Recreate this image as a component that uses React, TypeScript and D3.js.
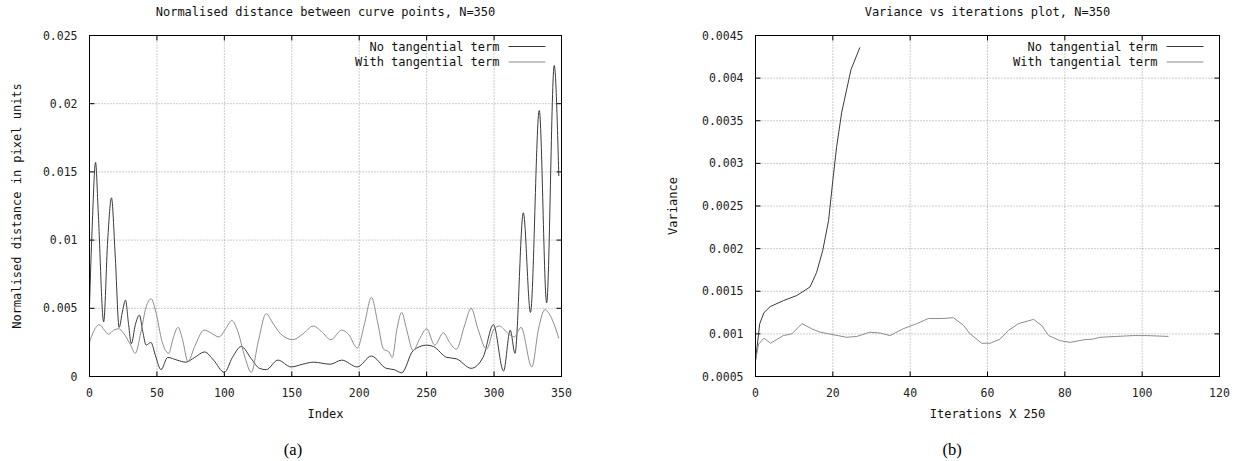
import React from "react";
import * as d3 from "d3";

// ---- Panel (a): Normalised distance between curve points ----
const aIndexNoTan = [0, 2, 4.5, 6.5, 10.5, 13.5, 16.3, 19, 22, 24.5, 26.7, 29, 31, 34, 37, 39.5, 42, 45.5, 49, 53, 58, 65, 71.5, 78, 85.4, 92, 100, 106, 112.5, 120, 126, 131, 139.7, 149.5, 158, 166, 178.5, 187, 198.6, 209, 220, 226, 231.5, 240, 250, 255, 265, 272, 283, 291.8, 299.5, 307, 312, 315.5, 321.7, 327, 333.5, 339, 344.6, 348];
const aValNoTan = [0.0052, 0.011, 0.0157, 0.012, 0.004, 0.0100, 0.0131, 0.009, 0.0036, 0.0048, 0.0056, 0.0038, 0.0024, 0.0038, 0.0045, 0.0033, 0.0023, 0.0025, 0.0015, 0.0005, 0.0014, 0.0012, 0.00105, 0.0014, 0.0018, 0.0012, 0.0003, 0.0014, 0.0022, 0.0013, 0.0006, 0.0005, 0.0012, 0.0007, 0.0009, 0.00105, 0.0009, 0.0012, 0.0007, 0.0015, 0.0006, 0.0005, 0.00027, 0.0019, 0.0023, 0.0022, 0.0014, 0.0013, 0.0006, 0.0014, 0.0038, 0.0004, 0.0034, 0.0017, 0.012, 0.0047, 0.0195, 0.0054, 0.0228, 0.0147];

const aIndexTan = [0, 3, 7.4, 11, 14, 18, 21.7, 25, 30, 34, 38, 42, 45.7, 49, 54, 58.7, 62, 65.7, 69, 73, 78, 85, 90, 96, 101, 105.5, 110, 115, 120, 125, 131, 136, 142, 150.8, 158, 166, 172, 179, 187, 192, 198.6, 204, 209, 214, 218, 222, 224.5, 228, 231.5, 235, 240, 245, 250, 256, 262.4, 267, 272, 278, 283, 288, 294.4, 300, 304, 310, 315, 320, 328, 333, 337.6, 343, 348];
const aValTan = [0.0025, 0.0033, 0.0038, 0.0034, 0.0031, 0.0034, 0.0035, 0.0032, 0.0024, 0.0017, 0.0032, 0.0051, 0.0057, 0.0048, 0.0025, 0.0017, 0.0028, 0.0036, 0.0027, 0.0011, 0.0022, 0.0034, 0.0032, 0.0029, 0.0035, 0.0041, 0.0033, 0.0015, 0.0003, 0.0025, 0.0046, 0.0039, 0.0031, 0.0027, 0.0031, 0.0037, 0.0033, 0.0027, 0.0034, 0.0031, 0.0021, 0.0039, 0.0058, 0.0038, 0.002, 0.0018, 0.0014, 0.0035, 0.0047, 0.0035, 0.0019, 0.0028, 0.0035, 0.0023, 0.0032, 0.0025, 0.002, 0.0037, 0.005, 0.0035, 0.002, 0.0035, 0.0037, 0.0032, 0.0029, 0.0036, 0.0007, 0.0035, 0.0049, 0.0042, 0.0028];

const aXTicks = [0, 50, 100, 150, 200, 250, 300, 350];
const aYTicks = [0, 0.005, 0.01, 0.015, 0.02, 0.025];
const aYTickLabels = ["0", "0.005", "0.01", "0.015", "0.02", "0.025"];

// ---- Panel (b): Variance vs iterations ----
const bIterNoTan = [0, 1.1, 2.2, 3.8, 7.2, 10.7, 14.1, 15.8, 17.4, 18.9, 20, 21, 22.3, 24.7, 27];
const bValNoTan = [0.00069, 0.00112, 0.00125, 0.00132, 0.00139, 0.00145, 0.00155, 0.00172, 0.00198, 0.00233, 0.0028, 0.0032, 0.0036, 0.0041, 0.00436];

const bIterTan = [0, 0.8, 2.2, 3.9, 7.2, 9.4, 12, 14.5, 16.7, 20.1, 23.6, 26.2, 29.6, 32.2, 34.8, 38.2, 41.7, 44.7, 48.2, 51.2, 53.8, 55.5, 58.5, 60.7, 63.3, 65.4, 68, 71.9, 74, 75.8, 78.8, 81.4, 84.8, 87.4, 89.1, 93.4, 97.7, 101.2, 106.8];
const bValTan = [0.00068, 0.00088, 0.00095, 0.00089, 0.00098, 0.001, 0.00112, 0.00106, 0.00102, 0.00099, 0.00096, 0.00097, 0.00102, 0.00101, 0.00098, 0.00106, 0.00112, 0.00118, 0.00118, 0.00119, 0.0011, 0.001, 0.00089, 0.00089, 0.00094, 0.00104, 0.00112, 0.00117, 0.0011, 0.00098, 0.00092, 0.0009, 0.00093, 0.00094, 0.00096, 0.00097, 0.00098, 0.00098, 0.00097];

const bXTicks = [0, 20, 40, 60, 80, 100, 120];
const bYTicks = [0.0005, 0.001, 0.0015, 0.002, 0.0025, 0.003, 0.0035, 0.004, 0.0045];
const bYTickLabels = ["0.0005", "0.001", "0.0015", "0.002", "0.0025", "0.003", "0.0035", "0.004", "0.0045"];

const legendLabels = ["No tangential term", "With tangential term"];

const DARK = "#3a3a3a";
const LIGHT = "#8c8c8c";
const MONO = "'DejaVu Sans Mono', monospace";

type Series = { xs: number[]; ys: number[]; color: string };

function Panel(props: {
  left: number; right: number; top: number; bottom: number;
  xDomain: [number, number]; yDomain: [number, number];
  xTicks: number[]; yTicks: number[]; yLabels: string[];
  title: string; xLabel: string; yLabel: string; yLabelX: number;
  series: Series[]; curve: d3.CurveFactory; caption: string; captionX: number;
}) {
  const { left, right, top, bottom } = props;
  const x = d3.scaleLinear().domain(props.xDomain).range([left, right]);
  const y = d3.scaleLinear().domain(props.yDomain).range([bottom, top]);
  const cx = (left + right) / 2;
  const cy = (top + bottom) / 2;
  const tl = 5;
  return (
    <g>
      <defs>
        <clipPath id={"clip" + props.caption}>
          <rect x={left} y={top} width={right - left} height={bottom - top} />
        </clipPath>
      </defs>
      {/* grid */}
      {props.xTicks.slice(1, -1).map((t) => (
        <line key={"gx" + t} x1={x(t)} x2={x(t)} y1={top} y2={bottom} stroke="#9a9a9a" strokeWidth={1} strokeDasharray="1,2" />
      ))}
      {props.yTicks.slice(1, -1).map((t) => (
        <line key={"gy" + t} x1={left} x2={right} y1={y(t)} y2={y(t)} stroke="#9a9a9a" strokeWidth={1} strokeDasharray="1,2" />
      ))}
      {/* ticks */}
      {props.xTicks.map((t) => (
        <g key={"tx" + t}>
          <line x1={x(t)} x2={x(t)} y1={bottom} y2={bottom - tl} stroke="#000" />
          <line x1={x(t)} x2={x(t)} y1={top} y2={top + tl} stroke="#000" />
          <text x={x(t)} y={bottom + 20} textAnchor="middle" fontFamily={MONO} fontSize={11.5} fill="#222">{t}</text>
        </g>
      ))}
      {props.yTicks.map((t, i) => (
        <g key={"ty" + t}>
          <line x1={left} x2={left + tl} y1={y(t)} y2={y(t)} stroke="#000" />
          <line x1={right} x2={right - tl} y1={y(t)} y2={y(t)} stroke="#000" />
          <text x={left - 12} y={y(t) + 4} textAnchor="end" fontFamily={MONO} fontSize={11.5} fill="#222">{props.yLabels[i]}</text>
        </g>
      ))}
      {/* series */}
      <g clipPath={`url(#clip${props.caption})`}>
        {props.series.map((s, i) => {
          const pts: [number, number][] = s.xs.map((v, j) => [x(v), y(s.ys[j])]);
          const path = d3.line().curve(props.curve)(pts) || "";
          return <path key={i} d={path} fill="none" stroke={s.color} strokeWidth={1} />;
        })}
      </g>
      {/* legend */}
      {legendLabels.map((lab, i) => {
        const ly = top + 11 + i * 15.5;
        return (
          <g key={lab}>
            <text x={right - 62} y={ly + 4} textAnchor="end" fontFamily={MONO} fontSize={12} fill="#111">{lab}</text>
            <line x1={right - 53} x2={right - 16} y1={ly} y2={ly} stroke={i === 0 ? DARK : LIGHT} strokeWidth={1} />
          </g>
        );
      })}
      {/* frame */}
      <rect x={left} y={top} width={right - left} height={bottom - top} fill="none" stroke="#000" strokeWidth={1} />
      {/* titles */}
      <text x={cx} y={16} textAnchor="middle" fontFamily={MONO} fontSize={12} fill="#111">{props.title}</text>
      <text x={cx} y={418} textAnchor="middle" fontFamily={MONO} fontSize={12} fill="#111">{props.xLabel}</text>
      <text transform={`translate(${props.yLabelX},${cy}) rotate(-90)`} textAnchor="middle" fontFamily={MONO} fontSize={12} fill="#111">{props.yLabel}</text>
      <text x={props.captionX} y={455} textAnchor="middle" fontFamily="'Liberation Serif', 'Times New Roman', serif" fontSize={16.5} fill="#000">({props.caption})</text>
    </g>
  );
}

export default function App() {
  return (
    <svg width={1246} height={461} style={{ position: "absolute", left: 0, top: 0, background: "#fff" }}>
      <rect width={1246} height={461} fill="#fff" />
      <Panel
        left={89.5} right={561.5} top={35.5} bottom={376.5}
        xDomain={[0, 350]} yDomain={[0, 0.025]}
        xTicks={aXTicks} yTicks={aYTicks} yLabels={aYTickLabels}
        title="Normalised distance between curve points, N=350"
        xLabel="Index" yLabel="Normalised distance in pixel units" yLabelX={21}
        series={[{ xs: aIndexNoTan, ys: aValNoTan, color: DARK }, { xs: aIndexTan, ys: aValTan, color: LIGHT }]}
        curve={d3.curveMonotoneX} caption="a" captionX={293}
      />
      <Panel
        left={755.5} right={1219.5} top={35.5} bottom={376.5}
        xDomain={[0, 120]} yDomain={[0.0005, 0.0045]}
        xTicks={bXTicks} yTicks={bYTicks} yLabels={bYTickLabels}
        title="Variance vs iterations plot, N=350"
        xLabel="Iterations X 250" yLabel="Variance" yLabelX={677}
        series={[{ xs: bIterNoTan, ys: bValNoTan, color: DARK }, { xs: bIterTan, ys: bValTan, color: LIGHT }]}
        curve={d3.curveLinear} caption="b" captionX={952}
      />
    </svg>
  );
}
